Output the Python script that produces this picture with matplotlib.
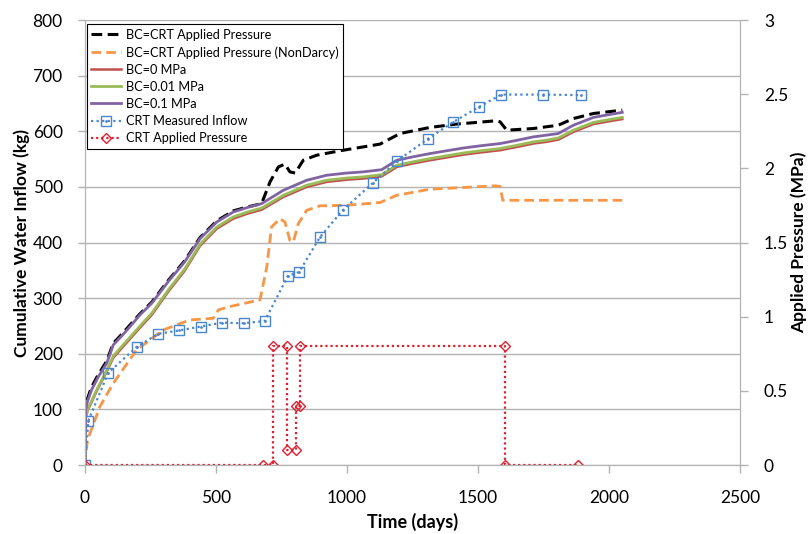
import matplotlib
matplotlib.use("Agg")
import matplotlib.pyplot as plt

plt.rcParams['font.family'] = ['Lato', 'DejaVu Sans']

# simulated curves (days, kg)
t_sim = [0, 3, 10, 25, 50, 83, 108, 140, 172, 210, 255, 318, 380, 439, 503, 566, 620, 674,
         757, 846, 922, 999, 1060, 1132, 1190, 1250, 1317, 1380, 1444, 1510, 1584, 1650,
         1711, 1760, 1806, 1864, 1940, 2000, 2050]
bc_01 = [0, 100, 115, 135, 158, 183, 216, 232, 249, 270, 291, 330, 365, 407, 437, 455, 463, 470,
         494, 512, 521, 525, 527, 531, 548, 554, 560, 565, 570, 574, 578, 584,
         590, 593, 596, 611, 625, 630, 634]
bc_001 = [0, 85, 99, 115, 140, 170, 196, 213, 230, 250, 273, 315, 352, 397, 428, 446, 455, 462,
          485, 503, 512, 516, 518, 522, 539, 545, 551, 556, 561, 565, 569, 575,
          581, 584, 588, 602, 616, 621, 625]
bc_0 = [0, 85, 98, 113, 138, 168, 193, 210, 227, 247, 270, 312, 349, 394, 425, 443, 452, 459,
        482, 500, 509, 513, 515, 519, 536, 542, 548, 553, 558, 562, 566, 572,
        578, 581, 585, 599, 613, 618, 622]

t_crt = [0, 3, 10, 25, 50, 83, 108, 140, 172, 210, 255, 318, 380, 439, 503, 566, 620, 674,
         706, 738, 763, 782, 802, 833, 884, 973, 1126, 1202, 1317, 1419, 1571, 1584, 1609,
         1711, 1806, 1864, 1940, 2050]
bc_crt = [0, 105, 120, 140, 162, 187, 219, 235, 252, 272, 293, 332, 367, 409, 439, 457, 464, 470,
          509, 536, 541, 527, 525, 548, 557, 565, 577, 596, 607, 613, 619, 617, 602,
          605, 611, 623, 632, 638]

t_nd = [0, 3, 10, 57, 108, 197, 299, 401, 490, 509, 553, 668, 694, 712, 744, 763, 782, 795,
        814, 846, 897, 999, 1126, 1190, 1317, 1444, 1565, 1584, 1594, 2050]
bc_nd = [0, 20, 45, 105, 147, 207, 243, 261, 264, 279, 285, 297, 357, 428, 443, 437, 404, 401,
         434, 458, 466, 467, 472, 485, 496, 499, 502, 501, 476, 476]

# measured inflow
t_meas = [0, 13, 89, 199, 280, 358, 441, 522, 605, 686, 774, 817, 897, 983, 1098, 1192,
          1310, 1406, 1504, 1588, 1749, 1892]
meas = [0, 80, 166, 213, 236, 242, 249, 256, 255, 259, 340, 347, 410, 458, 507, 547,
        587, 617, 644, 666, 666, 665]

# applied pressure (MPa)
t_p = [0, 681, 716, 716, 772, 772, 805, 805, 821, 821, 1601, 1601, 1880]
p = [0, 0, 0, 0.8, 0.8, 0.1, 0.1, 0.4, 0.4, 0.8, 0.8, 0, 0]

fig = plt.figure(figsize=(8.09, 5.34), dpi=100)
ax = fig.add_axes([0.105, 0.129, 0.81, 0.8335])
ax2 = ax.twinx()

grid_c = '#b3b3b3'
ax.set_axisbelow(True)
ax.yaxis.grid(True, color=grid_c, linewidth=1)

h1, = ax.plot(t_crt, bc_crt, color='black', linewidth=2.2, dashes=(3.5, 1.8),
              label='BC=CRT Applied Pressure')
h2, = ax.plot(t_nd, bc_nd, color='#f79646', linewidth=2.0, dashes=(3.5, 1.8),
              label='BC=CRT Applied Pressure (NonDarcy)')
h3, = ax.plot(t_sim, bc_0, color='#c0504d', linewidth=1.8, label='BC=0 MPa')
h4, = ax.plot(t_sim, bc_001, color='#9bbb59', linewidth=2.0, label='BC=0.01 MPa')
h5, = ax.plot(t_sim, bc_01, color='#8064a2', linewidth=2.0, label='BC=0.1 MPa')
h6, = ax.plot(t_meas, meas, color='#4a86cf', linewidth=1.6, dashes=(1, 1.5),
              marker='s', markersize=6.5, markerfacecolor='none', markeredgewidth=1.0,
              label='CRT Measured Inflow')
h6b, = ax.plot(t_meas, meas, linestyle='none', marker='.', markersize=2, color='#4a86cf')
h7, = ax2.plot(t_p, p, color='#e02030', linewidth=1.6, dashes=(1, 1.3),
               marker='D', markersize=5, markerfacecolor='none', markeredgewidth=1.0,
               label='CRT Applied Pressure')

ax.set_xlim(0, 2500)
ax.set_ylim(0, 800)
ax2.set_ylim(0, 3)
ax.set_xticks([0, 500, 1000, 1500, 2000, 2500])
ax.set_yticks(range(0, 801, 100))
ax2.set_yticks([0, 0.5, 1, 1.5, 2, 2.5, 3])
ax2.set_yticklabels(['0', '0.5', '1', '1.5', '2', '2.5', '3'])

for a in (ax, ax2):
    for s in a.spines.values():
        s.set_color(grid_c)
    a.spines['top'].set_visible(False)
    a.tick_params(colors=grid_c, labelcolor='black', labelsize=12.5, length=6, width=1)
ax.tick_params(axis='y', length=5, pad=11)
ax.tick_params(axis='x', pad=12)
ax2.tick_params(axis='y', pad=11)

ax.set_xlabel('Time (days)', fontsize=13, fontweight='bold', labelpad=5)
ax.set_ylabel('Cumulative Water Inflow (kg)', fontsize=12.5, fontweight='bold')
ax2.set_ylabel('Applied Pressure (MPa)', fontsize=12.5, fontweight='bold')
ax.yaxis.set_label_coords(-0.084, 0.5)
ax2.yaxis.set_label_coords(1.076, 0.5)

leg = ax2.legend([h1, h2, h3, h4, h5, (h6, h6b), h7],
                 [h.get_label() for h in (h1, h2, h3, h4, h5, h6, h7)],
                 loc='upper left', bbox_to_anchor=(0.003, 0.99), borderaxespad=0,
                 fontsize=9.2, labelspacing=0.4, handlelength=2.3, handletextpad=0.4,
                 borderpad=0.35, fancybox=False, framealpha=1)
leg.get_frame().set_edgecolor('black')
leg.get_frame().set_linewidth(0.8)

fig.savefig('out.png', dpi=100)
